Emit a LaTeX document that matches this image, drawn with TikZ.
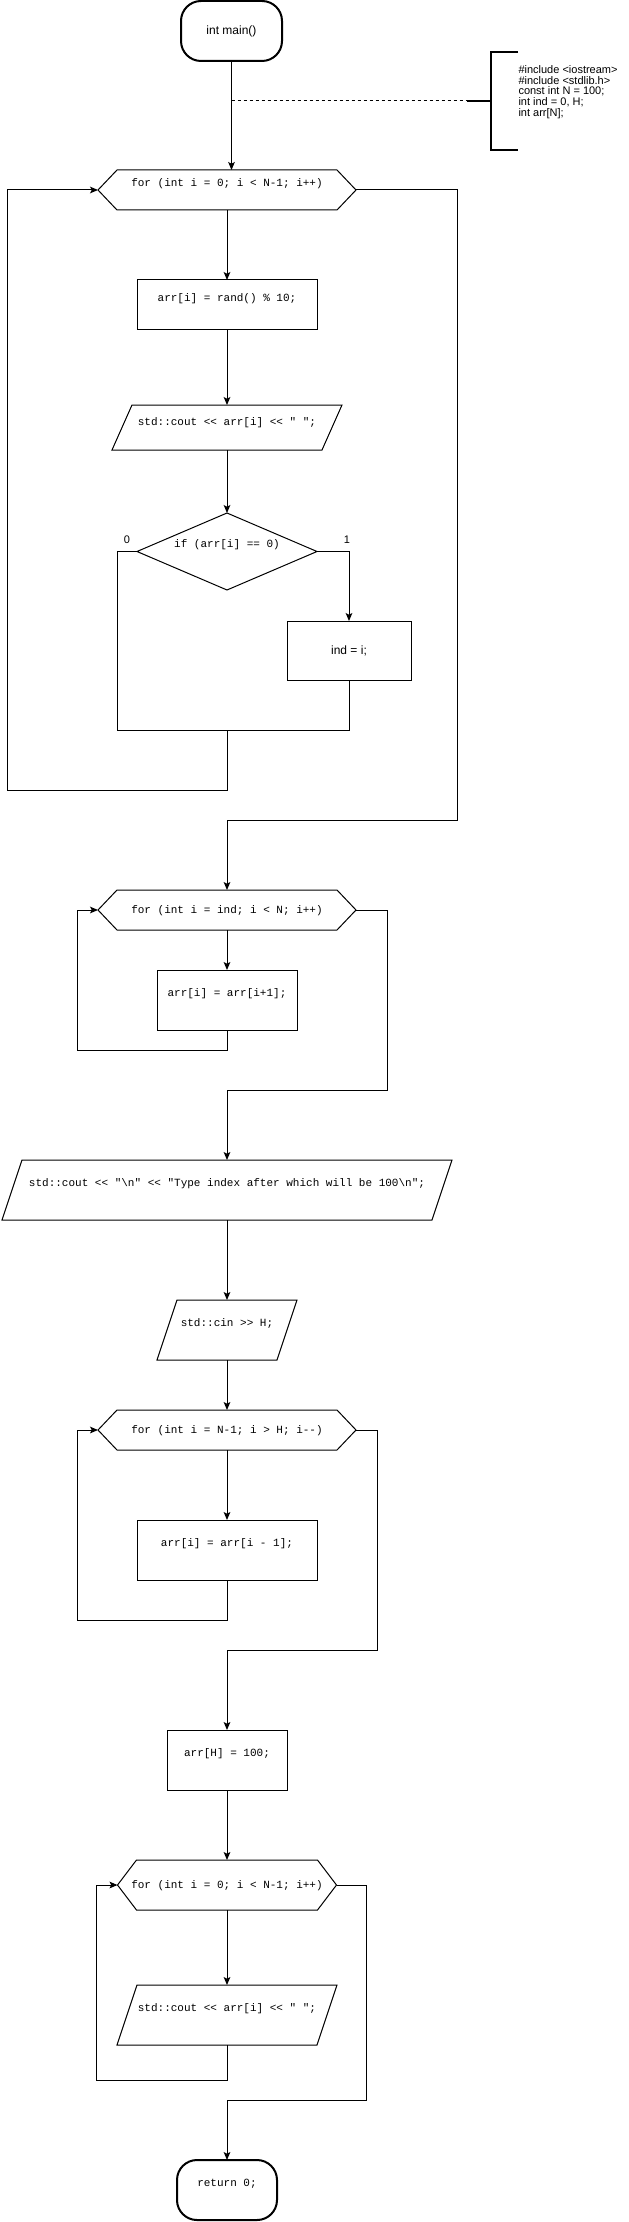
\documentclass[tikz,border=0pt]{standalone}
\usepackage{fontspec}
\setmainfont{Liberation Sans}
\setmonofont{Liberation Mono}
\usetikzlibrary{arrows.meta,calc}
\setlength{\lineskiplimit}{-10pt}
\tikzset{
  base/.style={inner sep=0pt, outer sep=0pt},
  mono/.style={font=\ttfamily\fontsize{8.25pt}{10pt}\selectfont},
  sans/.style={font=\fontsize{9pt}{11pt}\selectfont},
  ctr/.style={text height=6.5pt, text depth=1.5pt},
  hi/.style={text height=6.5pt, text depth=12pt},
  midhi/.style={text height=6.5pt, text depth=9.7pt},
  procbox/.style={base, draw, line width=0.75pt},
  holder/.style={base},
  termbox/.style={base, draw, line width=1.5pt, rounded corners=15pt},
  shp/.style={line width=0.75pt, line join=miter},
  ln/.style={line width=0.75pt},
  arr/.style={line width=0.75pt, -{Stealth[length=6pt, width=5pt, inset=1.3pt]}},
  dsh/.style={line width=0.75pt, dash pattern=on 2.25pt off 2.25pt},
  brkline/.style={line width=1.5pt},
  lbl/.style={base, font=\fontsize{8.25pt}{10pt}\selectfont},
  cmtfont/.style={font=\fontsize{8.25pt}{8pt}\selectfont},
}
\newcommand\hexpath[1]{\draw[shp] (#1.west) -- ($(#1.north west)+(19,0)$) -- ($(#1.north east)+(-19,0)$) -- (#1.east) -- ($(#1.south east)+(-19,0)$) -- ($(#1.south west)+(19,0)$) -- cycle;}
\newcommand\parapath[1]{\draw[shp] ($(#1.north west)+(20,0)$) -- (#1.north east) -- ($(#1.south east)+(-20,0)$) -- (#1.south west) -- cycle;}
\newcommand\diapath[1]{\draw[shp] (#1.north) -- (#1.east) -- (#1.south) -- (#1.west) -- cycle;}
\begin{document}
\begin{tikzpicture}[x=0.75pt, y=-0.75pt]
\useasboundingbox (0,0) rectangle (628,2222);

% start terminal
\node[termbox, sans, minimum width=75.75pt, minimum height=45pt] (t1) at (231.5,31) {int main()};

% comment annotation
\node[holder, minimum width=20.25pt, minimum height=73.5pt] (brk) at (504.5,101) {};
\draw[brkline] (brk.north east) -- (brk.north west) -- (brk.south west) -- (brk.south east);
\node[base, anchor=west, align=left, cmtfont] (cmt) at (518.5,92)
  {\#include <iostream>\\\#include <stdlib.h>\\const int N = 100;\\int ind = 0, H;\\int arr[N];};
\coordinate (tail) at ($(brk.west)+(-24,0)$);
\coordinate (jn) at (t1.south |- brk.west);
\draw[brkline] (tail) -- (brk.west);
\draw[dsh] (jn) -- (tail);

% loop 1
\node[holder, mono, hi, minimum width=193.5pt, minimum height=30pt] (h1) at (227,190) {for (int i = 0; i < N-1; i++)};
\hexpath{h1}
\node[procbox, mono, hi, minimum width=135pt, minimum height=37.5pt] (b1) at (227,305) {arr[i] = rand() \% 10;};
\node[holder, mono, midhi, minimum width=172.5pt, minimum height=33.75pt] (p1) at (227,427.5) {std::cout << arr[i] << " ";};
\parapath{p1}
\node[holder, mono, hi, minimum width=135pt, minimum height=57.75pt] (d) at (227,551.5) {if (arr[i] == 0)};
\diapath{d}
\node[procbox, sans, minimum width=93pt, minimum height=44.25pt] (ind) at (349,650.5) {ind = i;};
\node[lbl] (l0) at (127,540) {0};
\node[lbl] (l1) at (347,540) {1};
\coordinate (m1) at (227,730);
\coordinate (m2) at (227,820);

\draw[arr] (t1.south) -- (t1.south |- h1.north);
\draw[arr] (h1.south) -- (b1.north);
\draw[arr] (b1.south) -- (p1.north);
\draw[arr] (p1.south) -- (d.north);
\draw[arr] (d.east) -| (ind.north);
\draw[ln] (d.west) -- ++(-20,0) |- (m1);
\draw[ln] (ind.south) |- (m1);
\draw[arr] (m1) -- ++(0,60) -| ($(h1.west)+(-91,0)$) -- (h1.west);
\draw[ln] (h1.east) -- ++(101,0) |- (m2);

% loop 2
\node[holder, mono, ctr, minimum width=193.5pt, minimum height=30pt] (h2) at (227,910) {for (int i = ind; i < N; i++)};
\hexpath{h2}
\node[procbox, mono, hi, minimum width=105pt, minimum height=45pt] (b2) at (227,1000) {arr[i] = arr[i+1];};
\coordinate (m3) at (227,1090);
\draw[arr] (m2) -- (h2.north);
\draw[arr] (h2.south) -- (b2.north);
\draw[arr] (b2.south) -- ++(0,20) -| ($(h2.west)+(-21,0)$) -- (h2.west);
\draw[ln] (h2.east) -- ++(31,0) |- (m3);

% output / input
\node[holder, mono, hi, minimum width=337.5pt, minimum height=45pt] (p2) at (227,1190) {std::cout << "\textbackslash n" << "Type index after which will be 100\textbackslash n";};
\parapath{p2}
\node[holder, mono, hi, minimum width=105pt, minimum height=45pt] (p3) at (227,1330) {std::cin >> H;};
\parapath{p3}
\draw[arr] (m3) -- (p2.north);
\draw[arr] (p2.south) -- (p3.north);

% loop 3
\node[holder, mono, ctr, minimum width=193.5pt, minimum height=30pt] (h3) at (227,1430) {for (int i = N-1; i > H; i--)};
\hexpath{h3}
\node[procbox, mono, hi, minimum width=135pt, minimum height=45pt] (b3) at (227,1550) {arr[i] = arr[i - 1];};
\coordinate (m4) at (227,1650);
\draw[arr] (p3.south) -- (h3.north);
\draw[arr] (h3.south) -- (b3.north);
\draw[arr] (b3.south) -- ++(0,40) -| ($(h3.west)+(-21,0)$) -- (h3.west);
\draw[ln] (h3.east) -- ++(21,0) |- (m4);

\node[procbox, mono, hi, minimum width=90pt, minimum height=45pt] (b4) at (227,1760) {arr[H] = 100;};
\draw[arr] (m4) -- (b4.north);

% loop 4
\node[holder, mono, ctr, minimum width=164.25pt, minimum height=37.5pt] (h4) at (227,1885) {for (int i = 0; i < N-1; i++)};
\hexpath{h4}
\node[holder, mono, hi, minimum width=165pt, minimum height=45pt] (p4) at (227,2015) {std::cout << arr[i] << " ";};
\parapath{p4}
\coordinate (m5) at (227,2100);
\draw[arr] (b4.south) -- (h4.north);
\draw[arr] (h4.south) -- (p4.north);
\draw[arr] (p4.south) -- ++(0,35) -| ($(h4.west)+(-21,0)$) -- (h4.west);
\draw[ln] (h4.east) -- ++(30,0) |- (m5);

% end terminal
\node[termbox, mono, hi, minimum width=75pt, minimum height=45pt] (t2) at (227,2190) {return 0;};
\draw[arr] (m5) -- (t2.north);
\end{tikzpicture}
\end{document}
